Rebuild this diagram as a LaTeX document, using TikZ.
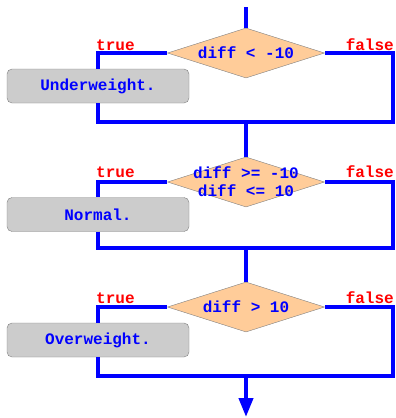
\documentclass[tikz,border=0pt]{standalone}
\usepackage{fontspec}
\setmonofont{Liberation Mono}
\usetikzlibrary{shapes.geometric,arrows.meta}
\definecolor{decfill}{RGB}{255,204,153}

\begin{document}
\begin{tikzpicture}[x=1pt, y=-1pt,
	flow/.style={line width=4pt, color=blue},
	dec/.style={diamond, draw=black!50, fill=decfill, minimum width=157pt, minimum height=50pt, inner sep=0pt},
	txt/.style={font=\ttfamily\bfseries\fontsize{16}{18}\selectfont, text=blue, align=center, inner sep=0pt},
	stmt/.style={txt, draw=black!50, fill=black!20, rounded corners=5pt, minimum width=182pt, minimum height=34pt},
	lab/.style={font=\ttfamily\bfseries\fontsize{16}{18}\selectfont, text=red, inner sep=0pt}]
			%%%%% START %%%%%
			
			\useasboundingbox (0, 0) rectangle (396, 418);
			
			\coordinate (start) at (246, 7);
			\coordinate (j1) at (246, 122);
			\coordinate (r1) at (393, 122);
			\coordinate (j2) at (246, 248);
			\coordinate (r2) at (393, 248);
			\coordinate (j3) at (246, 376);
			\coordinate (r3) at (393, 376);
			\coordinate (stop) at (246, 417);
			
			\node[dec] (d1) at (246, 53) {};
			\node[txt] (c1) at (d1) {diff < -10};
			\node[stmt] (b1) at (98, 86) {Underweight.};
			\node[lab, anchor=base west] (t1) at (96, 50) {true};
			\node[lab, anchor=base east] (f1) at (394, 50) {false};
			
			\node[dec] (d2) at (246, 182) {};
			\node[txt] (c2) at (d2) {diff >= -10\\diff <= 10};
			\node[stmt] (b2) at (98, 214.5) {Normal.};
			\node[lab, anchor=base west] (t2) at (96, 177) {true};
			\node[lab, anchor=base east] (f2) at (394, 177) {false};
			
			\node[dec] (d3) at (246, 307) {};
			\node[txt] (c3) at (d3) {diff > 10};
			\node[stmt] (b3) at (98, 340) {Overweight.};
			\node[lab, anchor=base west] (t3) at (96, 303) {true};
			\node[lab, anchor=base east] (f3) at (394, 303) {false};
			
			\draw[flow] (start) -- (d1.north);
			\draw[flow] (d1.west) -| (b1.north);
			\draw[flow] (b1.south) |- (r1) |- (d1.east);
			
			\draw[flow] (j1) -- (d2.north);
			\draw[flow] (d2.west) -| (b2.north);
			\draw[flow] (b2.south) |- (r2) |- (d2.east);
			
			\draw[flow] (j2) -- (d3.north);
			\draw[flow] (d3.west) -| (b3.north);
			\draw[flow] (b3.south) |- (r3) |- (d3.east);
			
			\draw[flow, -{Triangle[length=19pt, width=14pt]}] (j3) -- (stop);
			
			%%%%% END %%%%%
\end{tikzpicture}
\end{document}
